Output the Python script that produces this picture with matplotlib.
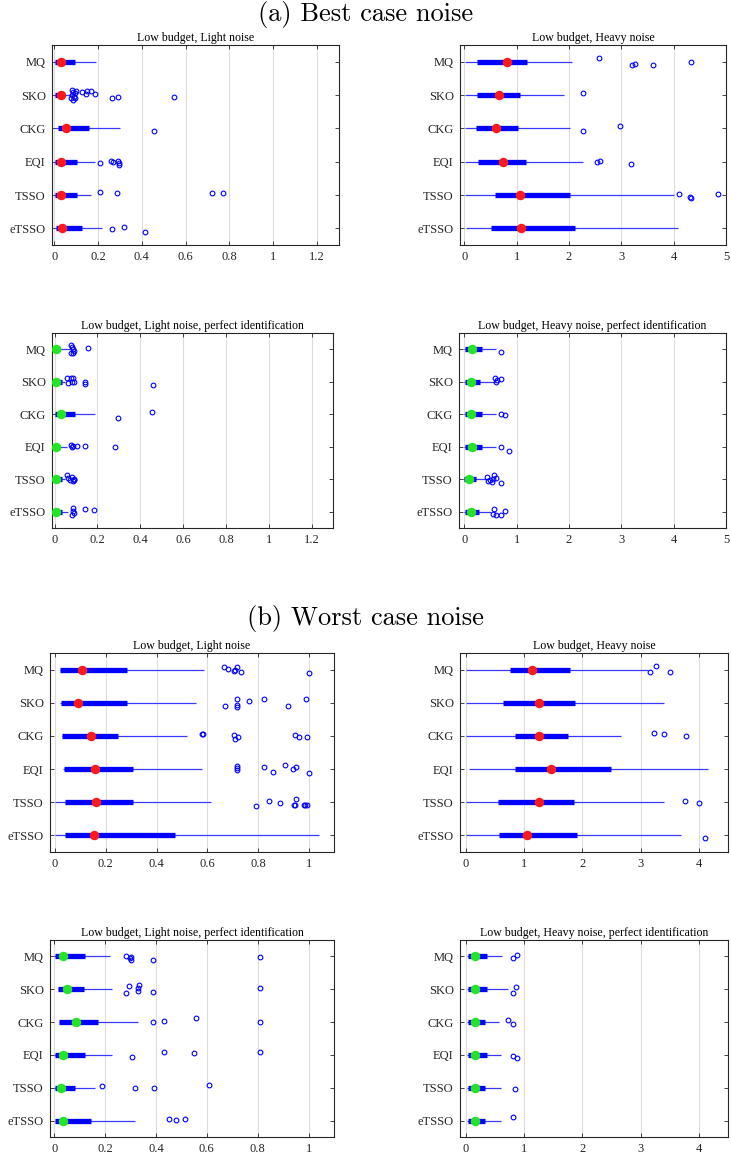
import matplotlib
matplotlib.use("Agg")
import matplotlib.pyplot as plt
from matplotlib.ticker import FuncFormatter

methods = ["MQ", "SKO", "CKG", "EQI", "TSSO", "eTSSO"]

# (a) best case noise, light noise
a_light_lo = [0.0, 0.0, 0.005, 0.0, 0.0, 0.005]
a_light_q1 = [0.003, 0.003, 0.018, 0.003, 0.003, 0.01]
a_light_med = [0.029, 0.029, 0.052, 0.029, 0.033, 0.035]
a_light_q3 = [0.094, 0.04, 0.16, 0.106, 0.102, 0.125]
a_light_hi = [0.19, 0.075, 0.30, 0.185, 0.17, 0.216]
a_light_out = [[],
               [0.082, 0.088, 0.095, 0.082, 0.09, 0.097, 0.085, 0.1, 0.078, 0.125, 0.144, 0.15, 0.166, 0.188, 0.264, 0.292, 0.549],
               [0.456],
               [0.211, 0.261, 0.269, 0.292, 0.295, 0.295],
               [0.211, 0.287, 0.719, 0.77],
               [0.264, 0.32, 0.413]]
a_light_jit = [[],
               [-0.14, -0.1, -0.05, 0.0, 0.05, 0.1, 0.14, -0.13, 0.09, -0.1, -0.02, -0.12, -0.12, -0.04, 0.08, 0.07, 0.07],
               [0.07],
               [0.05, -0.02, 0.0, -0.02, 0.05, 0.1],
               [-0.09, -0.06, -0.05, -0.07],
               [0.03, -0.04, 0.11]]

# (a) best case noise, heavy noise
a_heavy_lo = [0.01, 0.01, 0.01, 0.01, 0.01, 0.04]
a_heavy_q1 = [0.24, 0.24, 0.22, 0.26, 0.59, 0.51]
a_heavy_med = [0.82, 0.66, 0.61, 0.75, 1.06, 1.09]
a_heavy_q3 = [1.2, 1.07, 1.02, 1.18, 2.03, 2.12]
a_heavy_hi = [2.06, 1.9, 2.03, 2.27, 4.01, 4.08]
a_heavy_out = [[2.58, 3.2, 3.26, 3.61, 4.33], [2.26], [2.26, 2.97],
               [2.54, 2.6, 3.18], [4.11, 4.32, 4.33, 4.85], []]
a_heavy_jit = [[-0.1, 0.1, 0.08, 0.1, 0.01], [-0.07], [0.09, -0.07],
               [0.02, -0.02, 0.07], [-0.04, 0.07, 0.09, -0.03], []]

# (a) best case noise, light noise, perfect identification
a_light_pi_lo = [0.0, 0.0, 0.0, 0.0, 0.0, 0.0]
a_light_pi_q1 = [0.0, 0.0, 0.0, 0.0, 0.0, 0.0]
a_light_pi_med = [0.008, 0.008, 0.028, 0.008, 0.008, 0.008]
a_light_pi_q3 = [0.025, 0.034, 0.096, 0.026, 0.034, 0.034]
a_light_pi_hi = [0.07, 0.05, 0.187, 0.058, 0.05, 0.065]
a_light_pi_out = [[0.077, 0.082, 0.085, 0.09, 0.079, 0.087, 0.155],
                  [0.058, 0.065, 0.078, 0.085, 0.081, 0.089, 0.14, 0.141, 0.459],
                  [0.297, 0.455],
                  [0.078, 0.081, 0.085, 0.104, 0.14, 0.283],
                  [0.058, 0.065, 0.081, 0.089, 0.085, 0.093, 0.073],
                  [0.085, 0.085, 0.092, 0.081, 0.14, 0.183]]
a_light_pi_jit = [[-0.13, -0.08, 0.0, 0.05, 0.12, 0.1, -0.05],
                  [-0.13, 0.04, -0.11, -0.13, 0.02, 0.0, 0.0, 0.07, 0.1],
                  [0.1, -0.06],
                  [-0.06, 0.02, -0.01, -0.01, -0.01, 0.01],
                  [-0.12, -0.04, -0.06, -0.01, 0.06, 0.01, 0.03],
                  [-0.11, -0.03, 0.03, 0.11, -0.1, -0.04]]

# (a) best case noise, heavy noise, perfect identification
a_heavy_pi_lo = [0.0, 0.0, 0.0, 0.0, -0.03, 0.0]
a_heavy_pi_q1 = [0.01, 0.01, 0.01, 0.01, 0.0, 0.01]
a_heavy_pi_med = [0.14, 0.12, 0.13, 0.14, 0.1, 0.12]
a_heavy_pi_q3 = [0.33, 0.31, 0.33, 0.33, 0.22, 0.28]
a_heavy_pi_hi = [0.61, 0.6, 0.6, 0.61, 0.47, 0.51]
a_heavy_pi_out = [[0.7], [0.59, 0.62, 0.7, 0.61], [0.7, 0.78], [0.7, 0.86],
                  [0.44, 0.57, 0.54, 0.6, 0.45, 0.53, 0.7, 0.49],
                  [0.57, 0.54, 0.61, 0.7, 0.78]]
a_heavy_pi_jit = [[0.09], [-0.13, -0.06, -0.1, 0.02], [0.0, 0.03], [0.02, 0.12],
                  [-0.07, -0.12, -0.02, -0.04, 0.06, 0.09, 0.1, 0.01],
                  [-0.1, 0.08, 0.11, 0.11, -0.02]]

# (b) worst case noise, light noise
b_light_lo = [0.021, 0.021, 0.028, 0.032, 0.0, 0.0]
b_light_q1 = [0.021, 0.025, 0.028, 0.034, 0.041, 0.038]
b_light_med = [0.107, 0.09, 0.141, 0.157, 0.162, 0.152]
b_light_q3 = [0.283, 0.283, 0.249, 0.306, 0.306, 0.472]
b_light_hi = [0.589, 0.555, 0.522, 0.581, 0.615, 1.042]
b_light_out = [[0.668, 0.68, 0.707, 0.719, 0.71, 0.733, 1.003],
               [0.672, 0.719, 0.719, 0.719, 0.763, 0.822, 0.917, 0.99],
               [0.578, 0.582, 0.707, 0.71, 0.72, 0.946, 0.96, 0.992],
               [0.719, 0.719, 0.719, 0.823, 0.859, 0.905, 0.937, 0.951, 1.003],
               [0.792, 0.843, 0.888, 0.943, 0.947, 0.951, 0.983, 0.993, 0.987],
               []]
b_light_jit = [[-0.08, -0.01, 0.05, -0.07, 0.01, 0.07, 0.11],
               [0.09, -0.1, 0.06, 0.13, -0.04, -0.1, 0.09, -0.1],
               [-0.07, -0.07, -0.02, 0.09, 0.04, -0.02, 0.02, 0.02],
               [-0.1, -0.04, 0.02, -0.05, 0.09, -0.11, -0.01, -0.06, 0.12],
               [0.1, -0.05, 0.01, 0.07, 0.09, -0.09, 0.07, 0.07, 0.07],
               []]

# (b) worst case noise, heavy noise
b_heavy_lo = [0.0, 0.0, 0.0, 0.06, 0.0, 0.0]
b_heavy_q1 = [0.76, 0.63, 0.84, 0.84, 0.55, 0.57]
b_heavy_med = [1.13, 1.26, 1.25, 1.47, 1.25, 1.05]
b_heavy_q3 = [1.78, 1.88, 1.76, 2.49, 1.85, 1.91]
b_heavy_hi = [3.12, 3.4, 2.67, 4.16, 3.4, 3.7]
b_heavy_out = [[3.16, 3.27, 3.51], [], [3.23, 3.41, 3.78], [], [3.76, 4.0], [4.11]]
b_heavy_jit = [[0.08, -0.12, 0.06], [], [-0.08, -0.06, -0.01], [], [-0.05, 0.03], [0.08]]

# (b) worst case noise, light noise, perfect identification
b_light_pi_lo = [0.0, 0.016, 0.02, 0.0, 0.0, 0.003]
b_light_pi_q1 = [0.003, 0.016, 0.02, 0.003, 0.003, 0.003]
b_light_pi_med = [0.033, 0.05, 0.085, 0.035, 0.026, 0.034]
b_light_pi_q3 = [0.121, 0.117, 0.17, 0.121, 0.081, 0.144]
b_light_pi_hi = [0.219, 0.225, 0.33, 0.225, 0.16, 0.317]
b_light_pi_out = [[0.28, 0.298, 0.3, 0.301, 0.388, 0.81],
                  [0.28, 0.292, 0.329, 0.33, 0.334, 0.388, 0.81],
                  [0.388, 0.43, 0.558, 0.81],
                  [0.304, 0.432, 0.551, 0.81],
                  [0.187, 0.317, 0.392, 0.607],
                  [0.452, 0.478, 0.514]]
b_light_pi_jit = [[-0.02, 0.05, 0.03, 0.1, 0.12, 0.02],
                  [0.11, -0.09, -0.04, 0.05, -0.12, 0.07, -0.04],
                  [-0.01, -0.04, -0.12, 0.01],
                  [0.05, -0.08, -0.07, -0.08],
                  [-0.04, 0.02, 0.02, -0.08],
                  [-0.06, -0.03, -0.05]]

# (b) worst case noise, heavy noise, perfect identification
b_heavy_pi_lo = [0.02, 0.02, 0.02, 0.02, 0.02, 0.02]
b_heavy_pi_q1 = [0.03, 0.03, 0.03, 0.03, 0.03, 0.03]
b_heavy_pi_med = [0.15, 0.15, 0.15, 0.16, 0.15, 0.15]
b_heavy_pi_q3 = [0.355, 0.36, 0.33, 0.36, 0.33, 0.33]
b_heavy_pi_hi = [0.62, 0.72, 0.57, 0.61, 0.61, 0.61]
b_heavy_pi_out = [[0.81, 0.87], [0.865, 0.81], [0.72, 0.81], [0.81, 0.87], [0.85], [0.81]]
b_heavy_pi_jit = [[0.04, -0.04], [-0.07, 0.11], [-0.05, 0.06], [0.03, 0.1], [0.05], [-0.1]]

plt.rcParams["font.family"] = ["Liberation Serif", "DejaVu Serif"]

W, H = 731, 1158
fig = plt.figure(figsize=(W / 100, H / 100), dpi=100)


def make_ax(x0, y0, x1, y1):
    return fig.add_axes([x0 / W, 1 - y1 / H, (x1 - x0) / W, (y1 - y0) / H])


def draw(ax, title, lo, q1, med, q3, hi, out, jit, med_color, xlim, xticks):
    pos = list(range(1, len(methods) + 1))
    ax.hlines(pos, lo, hi, color="#3a3aff", lw=0.9, zorder=2, capstyle="butt")
    ax.hlines(pos, q1, q3, color="#0000ff", lw=3.8, zorder=3, capstyle="butt")
    for p, vals, js in zip(pos, out, jit):
        ax.plot(vals, [p + j for j in js], "o", mfc="none", mec="#0000ff",
                ms=3.4, mew=0.8, zorder=4)
    ax.plot(med, pos, "o", color=med_color, ms=5.8, zorder=5)
    ax.set_ylim(6.5, 0.5)
    ax.set_yticks(pos)
    ax.set_yticklabels(methods)
    ax.set_xlim(*xlim)
    ax.set_xticks(xticks)
    ax.xaxis.set_major_formatter(FuncFormatter(lambda v, p: f"{v:g}"))
    ax.xaxis.grid(True, color="#dddddd", lw=0.8)
    ax.set_axisbelow(True)
    ax.tick_params(direction="in", top=True, right=True, length=3, width=0.6,
                   labelsize=9, colors="#262626", pad=4.5)
    for s in ax.spines.values():
        s.set_color("#262626")
        s.set_linewidth(0.8)
    ax.set_title(title, fontsize=8.6, pad=3)


red = "#ff1a1a"
green = "#22e622"
t_light = [0, 0.2, 0.4, 0.6, 0.8, 1, 1.2]
t_light_b = [0, 0.2, 0.4, 0.6, 0.8, 1]

draw(make_ax(52, 45, 339, 245), "Low budget, Light noise",
     a_light_lo, a_light_q1, a_light_med, a_light_q3, a_light_hi,
     a_light_out, a_light_jit, red, (-0.01, 1.3), t_light)
draw(make_ax(460, 45, 726, 245), "Low budget, Heavy noise",
     a_heavy_lo, a_heavy_q1, a_heavy_med, a_heavy_q3, a_heavy_hi,
     a_heavy_out, a_heavy_jit, red, (-0.08, 5.0), [0, 1, 2, 3, 4, 5])
draw(make_ax(52, 333, 333, 528), "Low budget, Light noise, perfect identification",
     a_light_pi_lo, a_light_pi_q1, a_light_pi_med, a_light_pi_q3, a_light_pi_hi,
     a_light_pi_out, a_light_pi_jit, green, (-0.012, 1.3), t_light)
draw(make_ax(459, 333, 726, 528), "Low budget, Heavy noise, perfect identification",
     a_heavy_pi_lo, a_heavy_pi_q1, a_heavy_pi_med, a_heavy_pi_q3, a_heavy_pi_hi,
     a_heavy_pi_out, a_heavy_pi_jit, green, (-0.1, 5.0), [0, 1, 2, 3, 4, 5])
draw(make_ax(50, 653, 334, 852), "Low budget, Light noise",
     b_light_lo, b_light_q1, b_light_med, b_light_q3, b_light_hi,
     b_light_out, b_light_jit, red, (-0.02, 1.1), t_light_b)
draw(make_ax(460, 653, 728, 852), "Low budget, Heavy noise",
     b_heavy_lo, b_heavy_q1, b_heavy_med, b_heavy_q3, b_heavy_hi,
     b_heavy_out, b_heavy_jit, red, (-0.1, 4.5), [0, 1, 2, 3, 4])
draw(make_ax(50, 940, 334, 1137), "Low budget, Light noise, perfect identification",
     b_light_pi_lo, b_light_pi_q1, b_light_pi_med, b_light_pi_q3, b_light_pi_hi,
     b_light_pi_out, b_light_pi_jit, green, (-0.017, 1.1), t_light_b)
draw(make_ax(460, 940, 728, 1137), "Low budget, Heavy noise, perfect identification",
     b_heavy_pi_lo, b_heavy_pi_q1, b_heavy_pi_med, b_heavy_pi_q3, b_heavy_pi_hi,
     b_heavy_pi_out, b_heavy_pi_jit, green, (-0.1, 4.5), [0, 1, 2, 3, 4])

fig.text(0.5, 1 - 14 / H, "(a) Best case noise", ha="center", va="center",
         fontsize=19, family="cmr10")
fig.text(0.5, 1 - 618 / H, "(b) Worst case noise", ha="center", va="center",
         fontsize=19, family="cmr10")

fig.savefig("out.png", dpi=100)
